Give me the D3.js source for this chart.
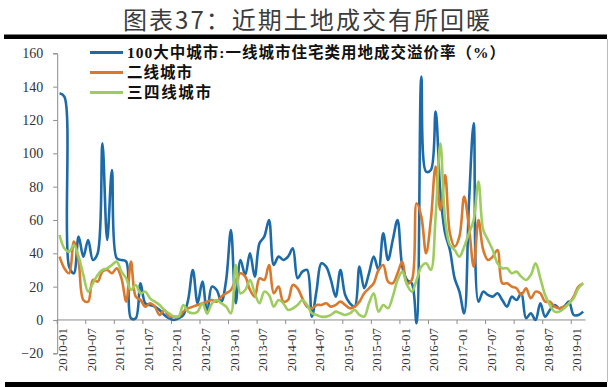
<!DOCTYPE html>
<html><head><meta charset="utf-8">
<script src="https://cdn.jsdelivr.net/npm/d3@7/dist/d3.min.js"></script>
<style>html,body{margin:0;padding:0;background:#fff;}svg{display:block;}</style>
</head><body>
<svg id="c" width="612" height="387"></svg>
<script>
const months = [
"2010-01","2010-02","2010-03","2010-04","2010-05","2010-06","2010-07","2010-08","2010-09","2010-10","2010-11","2010-12",
"2011-01","2011-02","2011-03","2011-04","2011-05","2011-06","2011-07","2011-08","2011-09","2011-10","2011-11","2011-12",
"2012-01","2012-02","2012-03","2012-04","2012-05","2012-06","2012-07","2012-08","2012-09","2012-10","2012-11","2012-12",
"2013-01","2013-02","2013-03","2013-04","2013-05","2013-06","2013-07","2013-08","2013-09","2013-10","2013-11","2013-12",
"2014-01","2014-02","2014-03","2014-04","2014-05","2014-06","2014-07","2014-08","2014-09","2014-10","2014-11","2014-12",
"2015-01","2015-02","2015-03","2015-04","2015-05","2015-06","2015-07","2015-08","2015-09","2015-10","2015-11","2015-12",
"2016-01","2016-02","2016-03","2016-04","2016-05","2016-06","2016-07","2016-08","2016-09","2016-10","2016-11","2016-12",
"2017-01","2017-02","2017-03","2017-04","2017-05","2017-06","2017-07","2017-08","2017-09","2017-10","2017-11","2017-12",
"2018-01","2018-02","2018-03","2018-04","2018-05","2018-06","2018-07","2018-08","2018-09","2018-10","2018-11","2018-12",
"2019-01","2019-02","2019-03"];

const tier1 = [136,134,32,28,50,38,48,36,40,106,48,90,
37,36,35,1,1,22,10,9,8,6,3,1,
0,1,3,12,30,10,23,4,20,18,11,24,
54,10,36,27,40,26,46,50,60,33,38,36,
38,43,25,29,30,2,18,34,32,24,14,30,
15,10,8,32,19,28,38,30,52,36,48,60,
32,24,22,-2,146,89,90,125,76,52,42,25,
17,4,70,118,11,17,15,14,16,12,8,14,
12,16,1,4,0,10,2,6,9,7,8,11,
3,3,5];

const tier2 = [38,31,28,47,35,12,11,24,23,29,30,28,
31,25,11,35,14,12,8,10,8,3,6,2,
2,2,5,7,8,9,10,11,12,11,14,16,
18,24,28,26,18,14,25,24,33,16,20,11,
12,21,19,13,8,7,9,9,10,8,9,11,
9,7,8,11,16,19,22,30,33,23,22,28,
35,22,24,70,62,40,60,92,66,87,52,44,
50,74,56,32,60,42,36,38,42,22,22,20,
19,15,19,13,17,16,11,11,8,7,8,10,
14,20,22];

const tier34 = [51,43,41,45,38,27,17,22,27,30,31,33,
35,29,25,18,21,16,17,13,11,9,6,4,
2,2,9,5,4,5,10,4,10,12,10,8,
4,33,16,18,24,16,10,17,15,8,12,10,
6,7,9,12,9,4,3,2,2,3,5,4,
3,4,6,3,2,10,16,5,9,7,14,24,
29,21,17,24,32,34,30,62,106,60,45,42,
38,44,52,60,83,54,48,42,34,31,31,28,
29,26,24,27,34,25,15,9,5,5,7,10,
13,19,22];

const seriesNames = ["100大中城市:一线城市住宅类用地成交溢价率（%）","二线城市","三四线城市"];
const seriesColors = ["#1d6aa8","#d9792d","#9fcc5f"];
const yTicks = [-20,0,20,40,60,80,100,120,140,160];
const xTickLabels = ["2010-01","2010-07","2011-01","2011-07","2012-01","2012-07","2013-01","2013-07",
"2014-01","2014-07","2015-01","2015-07","2016-01","2016-07","2017-01","2017-07","2018-01","2018-07","2019-01"];

const svg = d3.select("#c");

// title
svg.append("text").attr("x",123).attr("y",29)
  .attr("font-family","'Noto Sans CJK SC', sans-serif").attr("font-size",24)
  .attr("fill","#3c3c3c").attr("textLength",367).attr("lengthAdjust","spacing")
  .text("图表37：近期土地成交有所回暖");
svg.append("rect").attr("x",4).attr("y",34.5).attr("width",603).attr("height",4.5).attr("fill","#000");
svg.append("rect").attr("x",5).attr("y",382).attr("width",602).attr("height",5).attr("fill","#000");
svg.append("line").attr("x1",607.5).attr("x2",607.5).attr("y1",39).attr("y2",382).attr("stroke","#bbb").attr("stroke-width",1);

const x = d3.scaleBand().domain(months).range([57.2, 57.2 + 4.76*months.length]);
const y = d3.scaleLinear().domain([-20,160]).range([353.3,53.3]);
const cx = m => x(m) + x.bandwidth()/2;

// y axis
const yAxis = svg.append("g").attr("transform","translate(57.2,0)")
  .call(d3.axisLeft(y).tickValues(yTicks).tickSize(4).tickPadding(10).tickFormat(d3.format("d")));
yAxis.select(".domain").attr("stroke","#8c8c8c");
yAxis.selectAll(".tick line").attr("stroke","#8c8c8c");
yAxis.selectAll("text").attr("font-family","'Liberation Serif', serif").attr("font-size",14).attr("fill","#333");

// x axis at zero
const xg = svg.append("g").attr("transform",`translate(0,${y(0)})`);
xg.append("line").attr("x1",x.range()[0]).attr("x2",x.range()[1]).attr("stroke","#8c8c8c");
xg.selectAll("line.tk").data(xTickLabels).join("line").attr("class","tk")
  .attr("x1",d=>x(d)).attr("x2",d=>x(d)).attr("y1",0).attr("y2",4).attr("stroke","#8c8c8c");
xg.selectAll("text").data(xTickLabels).join("text")
  .attr("transform",d=>`translate(${cx(d)+3},8) rotate(-90)`)
  .attr("text-anchor","end").attr("dy","0.35em")
  .attr("font-family","'Liberation Serif', serif").attr("font-size",13).attr("fill","#333")
  .text(d=>d);

// lines
const line = d3.line().x((d,i)=>cx(months[i])).y(d=>y(d)).curve(d3.curveCatmullRom.alpha(0.5));
[tier1,tier2,tier34].forEach((s,k)=>{
  svg.append("path").datum(s).attr("d",line).attr("fill","none")
    .attr("stroke",seriesColors[k]).attr("stroke-width",2.6).attr("stroke-linejoin","round");
});

// legend
const lg = svg.append("g");
const lw = [378,65,84];
seriesNames.forEach((n,k)=>{
  const yy = 52.5 + k*20;
  lg.append("line").attr("x1",90).attr("x2",123).attr("y1",yy).attr("y2",yy)
    .attr("stroke",seriesColors[k]).attr("stroke-width",3);
  lg.append("text").attr("x",127).attr("y",yy+5.5)
    .attr("font-family","'Liberation Serif','Noto Sans CJK SC', serif").attr("font-weight","bold")
    .attr("font-size",15.5).attr("fill","#111")
    .attr("textLength",lw[k]).attr("lengthAdjust","spacing").text(n);
});
</script>
</body></html>
